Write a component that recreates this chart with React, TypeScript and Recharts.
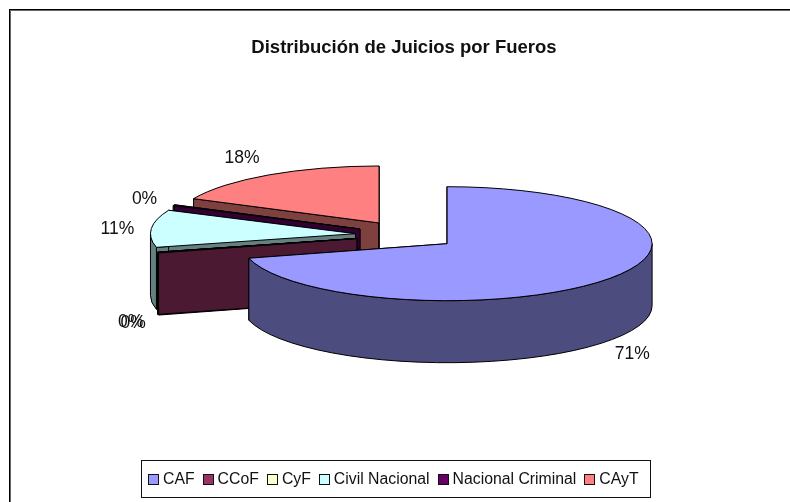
import React from 'react';
import { PieChart, Pie, Legend } from 'recharts';

const TITLE = 'Distribución de Juicios por Fueros';
const categories = ['CAF', 'CCoF', 'CyF', 'Civil Nacional', 'Nacional Criminal', 'CAyT'];
const values = [70.9, 0.2, 0.05, 10.6, 0.25, 18];
const topColors = ['#9999FF', '#993366', '#FFFFCC', '#CCFFFF', '#660066', '#FF8080'];
const wallColors = ['#4C4C7F', '#4C1933', '#7F7F66', '#667F7F', '#330033', '#7F4040'];
const labelNudges = [[-1, -1], [4, 2], [2, 2], [-4, 1], [-2, 2], [-11, 1]];

// The pie is stored back-to-front and swept counter-clockwise, so that the
// drawing order of the sectors is also the correct depth order for the 3D look.
const rows = categories
  .map((name, i) => ({ name, value: values[i], fill: topColors[i], wall: wallColors[i], nudge: labelNudges[i] }))
  .reverse();

const SQUASH = 57 / 205;
const DEPTH = 62;
const EXPLODE = 0.25;
const FONT = '"Liberation Sans", Arial, sans-serif';
const rad = (a: number) => (a * Math.PI) / 180;

function geometry(cx: number, cy: number, r: number, mid: number) {
  const ry = r * SQUASH;
  const ox = cx + EXPLODE * r * Math.cos(rad(mid));
  const oy = cy - EXPLODE * ry * Math.sin(rad(mid));
  const at = (a: number) => ({ x: ox + r * Math.cos(rad(a)), y: oy - ry * Math.sin(rad(a)) });
  return { ry, ox, oy, at };
}

function Slice3D(props: any) {
  const { cx, cy, outerRadius: r, startAngle, endAngle, midAngle, fill, payload } = props;
  const a0 = Math.min(startAngle, endAngle);
  const a1 = Math.max(startAngle, endAngle);
  const { ry, ox, oy, at } = geometry(cx, cy, r, midAngle);
  const wall = payload?.wall ?? props.wall;
  const p0 = at(a0);
  const p1 = at(a1);
  const radial = (p: { x: number; y: number }) =>
    `M${ox},${oy} L${p.x},${p.y} L${p.x},${p.y + DEPTH} L${ox},${oy + DEPTH} Z`;
  const f0 = Math.max(a0, 180);
  const f1 = Math.min(a1, 360);
  let outer = '';
  if (f1 > f0) {
    const s = at(f0);
    const e = at(f1);
    outer = `M${s.x},${s.y} A${r},${ry} 0 0 0 ${e.x},${e.y} L${e.x},${e.y + DEPTH} A${r},${ry} 0 0 1 ${s.x},${s.y + DEPTH} Z`;
  }
  const large = a1 - a0 > 180 ? 1 : 0;
  const top = `M${ox},${oy} L${p0.x},${p0.y} A${r},${ry} 0 ${large} 0 ${p1.x},${p1.y} Z`;
  const edge = { stroke: '#000', strokeWidth: 1, strokeLinejoin: 'round' as const };
  return (
    <g>
      <path d={radial(p1)} fill={wall} {...edge} />
      <path d={radial(p0)} fill={wall} {...edge} />
      {outer && <path d={outer} fill={wall} {...edge} />}
      <path d={top} fill={fill} {...edge} />
    </g>
  );
}

function PercentLabel(props: any) {
  const { cx, cy, outerRadius: r, midAngle, percent, payload } = props;
  const { at } = geometry(cx, cy, r, midAngle);
  const p = at(midAngle);
  const s = Math.sin(rad(midAngle));
  const c = Math.cos(rad(midAngle));
  const nudge = payload?.nudge ?? props.nudge ?? [0, 0];
  const x = p.x + 30 * c + nudge[0];
  const y = p.y - 22 * s + (s < 0 ? DEPTH : 0) + nudge[1];
  return (
    <text x={x} y={y} textAnchor="middle" dominantBaseline="central" fontFamily={FONT} fontSize={17.5} fill="#111">
      {`${Math.round(percent * 100)}%`}
    </text>
  );
}

function LegendBox(props: any) {
  const items = [...(props.payload ?? [])].sort(
    (a: any, b: any) => categories.indexOf(a.value) - categories.indexOf(b.value),
  );
  return (
    <div
      style={{
        boxSizing: 'border-box',
        width: 510,
        height: 38,
        border: '1.5px solid #111',
        background: '#fff',
        display: 'flex',
        alignItems: 'center',
        padding: '0 0 0 6px',
        fontFamily: FONT,
        fontSize: 15.8,
        color: '#111',
        whiteSpace: 'nowrap',
      }}
    >
      {items.map((it: any) => (
        <div key={it.value} style={{ display: 'flex', alignItems: 'center', marginRight: 8 }}>
          <span
            style={{
              display: 'inline-block',
              boxSizing: 'border-box',
              width: 11,
              height: 11,
              marginRight: 4,
              border: '1px solid #111',
              background: it.color ?? it.payload?.fill,
            }}
          />
          <span>{it.value}</span>
        </div>
      ))}
    </div>
  );
}

export default function App() {
  return (
    <div style={{ position: 'absolute', left: 0, top: 0, width: 790, height: 502, background: '#fff', overflow: 'hidden', filter: 'blur(0.35px)' }}>
      <PieChart width={790} height={502} margin={{ top: 0, right: 0, bottom: 0, left: 0 }}>
        <rect x={10.5} y={10.5} width={820} height={540} fill="none" stroke="#666" strokeWidth={1} />
        <rect x={9.5} y={9.5} width={820} height={540} fill="none" stroke="#000" strokeWidth={1} />
        <text x={404} y={46.5} textAnchor="middle" dominantBaseline="central" fontFamily={FONT} fontSize={18.5} fontWeight={700} fill="#111">
          {TITLE}
        </text>
        <Pie
          data={rows}
          dataKey="value"
          nameKey="name"
          cx={406.5}
          cy={235}
          innerRadius={0}
          outerRadius={205}
          startAngle={90}
          endAngle={450}
          stroke="none"
          legendType="square"
          isAnimationActive={false}
          shape={Slice3D}
          labelLine={false}
          label={PercentLabel}
        />
        <Legend content={LegendBox} wrapperStyle={{ position: 'absolute', left: 141, top: 460, width: 510, height: 38 }} />
      </PieChart>
    </div>
  );
}
